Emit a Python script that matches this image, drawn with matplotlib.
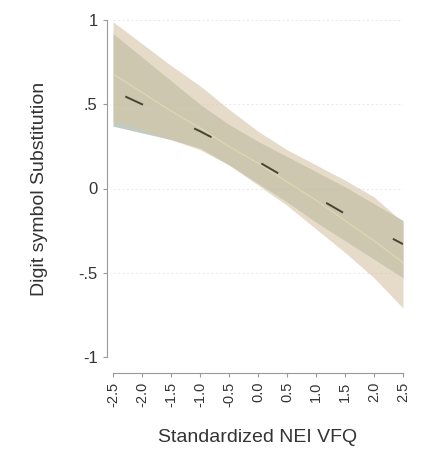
import matplotlib
matplotlib.use('Agg')
import matplotlib.pyplot as plt
import numpy as np

plt.rcParams['font.family'] = ['Liberation Sans', 'DejaVu Sans']

# standardized NEI VFQ grid
vfq = [-2.5, -2.0, -1.5, -1.0, -0.5, 0.0, 0.5, 1.0, 1.5, 2.0, 2.5]

# model A (grey-green band)
fit_a = [0.58, 0.50, 0.42, 0.34, 0.25, 0.16, 0.06, -0.05, -0.15, -0.24, -0.33]
lo_a = [0.37, 0.33, 0.29, 0.24, 0.14, 0.03, -0.08, -0.20, -0.31, -0.42, -0.53]
hi_a = [0.92, 0.78, 0.64, 0.50, 0.38, 0.28, 0.19, 0.10, 0.01, -0.09, -0.19]

# model B (tan band)
fit_b = [0.68, 0.57, 0.46, 0.36, 0.25, 0.15, 0.04, -0.07, -0.19, -0.31, -0.44]
lo_b = [0.40, 0.35, 0.29, 0.23, 0.14, 0.02, -0.10, -0.24, -0.38, -0.53, -0.71]
hi_b = [0.99, 0.86, 0.73, 0.61, 0.47, 0.34, 0.23, 0.14, 0.05, -0.05, -0.20]

yticks = [-1, -0.5, 0, 0.5, 1]
ytick_labels = ['-1', '-.5', '0', '.5', '1']
xticks = [-2.5, -2.0, -1.5, -1.0, -0.5, 0.0, 0.5, 1.0, 1.5, 2.0, 2.5]
xtick_labels = ['-2.5', '-2.0', '-1.5', '-1.0', '-0.5', '0.0', '0.5', '1.0', '1.5', '2.0', '2.5']

fig = plt.figure(figsize=(4.24, 4.67), dpi=100)
ax = fig.add_axes([113 / 424, 110 / 467, 290 / 424, 337 / 467])

ax.fill_between(vfq, lo_a, hi_a, color='#a2b4a4', alpha=0.68, lw=0)
ax.fill_between(vfq, lo_b, hi_b, color='#d6c4a6', alpha=0.6, lw=0)
ax.plot(vfq, fit_b, color='#e2dcb4', lw=1.0, alpha=0.7)
ax.plot(vfq, fit_a, color='#45452f', lw=1.4, linestyle=(32, (10, 29)))

ax.set_xlim(-2.5, 2.5)
ax.set_ylim(-1, 1)

for y in yticks:
    ax.axhline(y, color='#ececec', lw=0.8, ls=(0, (2, 2)), zorder=0)

ax.set_yticks(yticks)
ax.set_yticklabels(ytick_labels)
ax.set_xticks(xticks)
ax.set_xticklabels(xtick_labels)

for side in ['top', 'right']:
    ax.spines[side].set_visible(False)
ax.spines['left'].set_position(('outward', 4.5))
ax.spines['bottom'].set_position(('outward', 11.5))
ax.spines['left'].set_color('#999999')
ax.spines['bottom'].set_color('#999999')
ax.tick_params(colors='#999999', labelcolor='#333333', length=3, width=0.8)
ax.tick_params(axis='y', labelsize=12)
ax.tick_params(axis='x', labelsize=10.5, labelrotation=90)

ax.set_xlabel('Standardized NEI VFQ', fontsize=14, color='#333333', labelpad=16)
ax.set_ylabel('Digit symbol Substitution', fontsize=14, color='#333333', labelpad=22)

fig.savefig('out.png', dpi=100)
